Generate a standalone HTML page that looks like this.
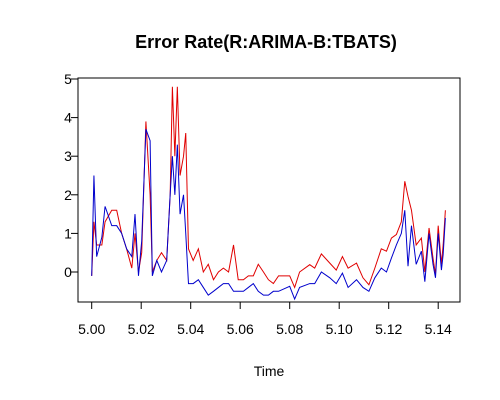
<!DOCTYPE html>
<html><head><meta charset="utf-8"><style>body{margin:0;background:#fff}svg{display:block}text{font-family:"Liberation Sans",Arial,sans-serif}</style></head>
<body>
<svg id="c" width="500" height="400" xmlns="http://www.w3.org/2000/svg">
<rect width="500" height="400" fill="#fff"/>
<text x="266" y="48" text-anchor="middle" font-size="18" font-weight="bold">Error Rate(R:ARIMA-B:TBATS)</text>
<text x="269" y="376" text-anchor="middle" font-size="14">Time</text>
<rect x="78" y="78" width="382" height="224" fill="none" stroke="#000"/>
<g id="series"></g>
<g id="axes"></g>
</svg>
<script>
const times=[5.0000,5.0009,5.0020,5.0041,5.0054,5.0081,5.0101,5.0121,5.0141,5.0162,5.0175,5.0189,5.0202,5.0219,5.0236,5.0245,5.0263,5.0282,5.0303,5.0317,5.0326,5.0336,5.0346,5.0357,5.0371,5.0380,5.0391,5.0410,5.0431,5.0451,5.0471,5.0492,5.0512,5.0532,5.0553,5.0573,5.0592,5.0613,5.0633,5.0653,5.0673,5.0694,5.0714,5.0734,5.0755,5.0800,5.0820,5.0840,5.0881,5.0901,5.0928,5.0962,5.0988,5.1013,5.1036,5.1070,5.1096,5.1120,5.1144,5.1170,5.1191,5.1211,5.1231,5.1251,5.1265,5.1278,5.1292,5.1311,5.1332,5.1346,5.1363,5.1379,5.1389,5.1400,5.1413,5.1420,5.1429];
const redValues=[-0.1,1.3,0.7,0.7,1.3,1.6,1.6,1.0,0.6,0.1,1.0,0.0,0.5,3.9,2.0,0.0,0.3,0.5,0.3,2.0,4.8,3.0,4.8,2.5,3.0,3.6,0.6,0.3,0.6,0.0,0.2,-0.2,0.0,0.1,0.0,0.7,-0.2,-0.2,-0.1,-0.1,0.2,0.0,-0.2,-0.3,-0.1,-0.1,-0.4,0.0,0.19,0.1,0.47,0.23,0.05,0.4,0.1,0.23,-0.15,-0.33,0.1,0.6,0.54,0.88,0.97,1.3,2.35,1.96,1.6,0.7,0.88,0.0,1.14,0.36,-0.06,1.2,0.2,0.7,1.6];
const blueValues=[-0.1,2.5,0.4,0.9,1.7,1.2,1.2,1.0,0.6,0.4,1.5,-0.1,0.8,3.7,3.4,-0.1,0.3,0.0,0.3,2.0,3.0,2.0,3.3,1.5,2.0,1.0,-0.3,-0.3,-0.2,-0.4,-0.6,-0.5,-0.4,-0.3,-0.3,-0.5,-0.5,-0.5,-0.4,-0.3,-0.5,-0.6,-0.6,-0.5,-0.5,-0.37,-0.7,-0.4,-0.3,-0.3,0.0,-0.15,-0.3,-0.03,-0.4,-0.2,-0.4,-0.5,-0.15,0.1,0.0,0.36,0.7,1.0,1.6,0.15,1.2,0.2,0.54,-0.25,1.0,0.2,-0.15,1.0,0.05,0.45,1.4];
const xTicks=["5.00","5.02","5.04","5.06","5.08","5.10","5.12","5.14"];
const yTicks=["0","1","2","3","4","5"];
const NS="http://www.w3.org/2000/svg";
function xs(t){return 91.7+(t-5.00)*2475;}
function ys(v){return 272-v*38.6;}
function mk(tag,attrs,parent){const e=document.createElementNS(NS,tag);for(const k in attrs)e.setAttribute(k,attrs[k]);parent.appendChild(e);return e;}
const sg=document.getElementById('series');
const rp=mk('polyline',{points:times.map((t,i)=>xs(t)+','+ys(redValues[i])).join(' '),fill:'none',stroke:'#e00000','stroke-width':1},sg);


const bp=mk('polyline',{points:times.map((t,i)=>xs(t)+','+ys(blueValues[i])).join(' '),fill:'none',stroke:'#0000cc','stroke-width':1},sg);


const ag=document.getElementById('axes');
const xl=mk('line',{x1:xs(5.00),x2:xs(5.14),y1:302,y2:302,stroke:'#000'},ag);


xTicks.forEach(s=>{const x=xs(parseFloat(s));
const tk=mk('line',{x1:x,x2:x,y1:302,y2:309,stroke:'#000'},ag);


const tx=mk('text',{x:x,y:334,'text-anchor':'middle','font-size':14},ag);tx.textContent=s;

});
const yl=mk('line',{x1:78,x2:78,y1:ys(0),y2:ys(5),stroke:'#000'},ag);


yTicks.forEach(s=>{const y=ys(parseFloat(s));
const tk=mk('line',{x1:71,x2:78,y1:y,y2:y,stroke:'#000'},ag);


const tx=mk('text',{x:68,y:y+5,'text-anchor':'middle','font-size':14},ag);tx.textContent=s;

});
</script>
</body></html>
